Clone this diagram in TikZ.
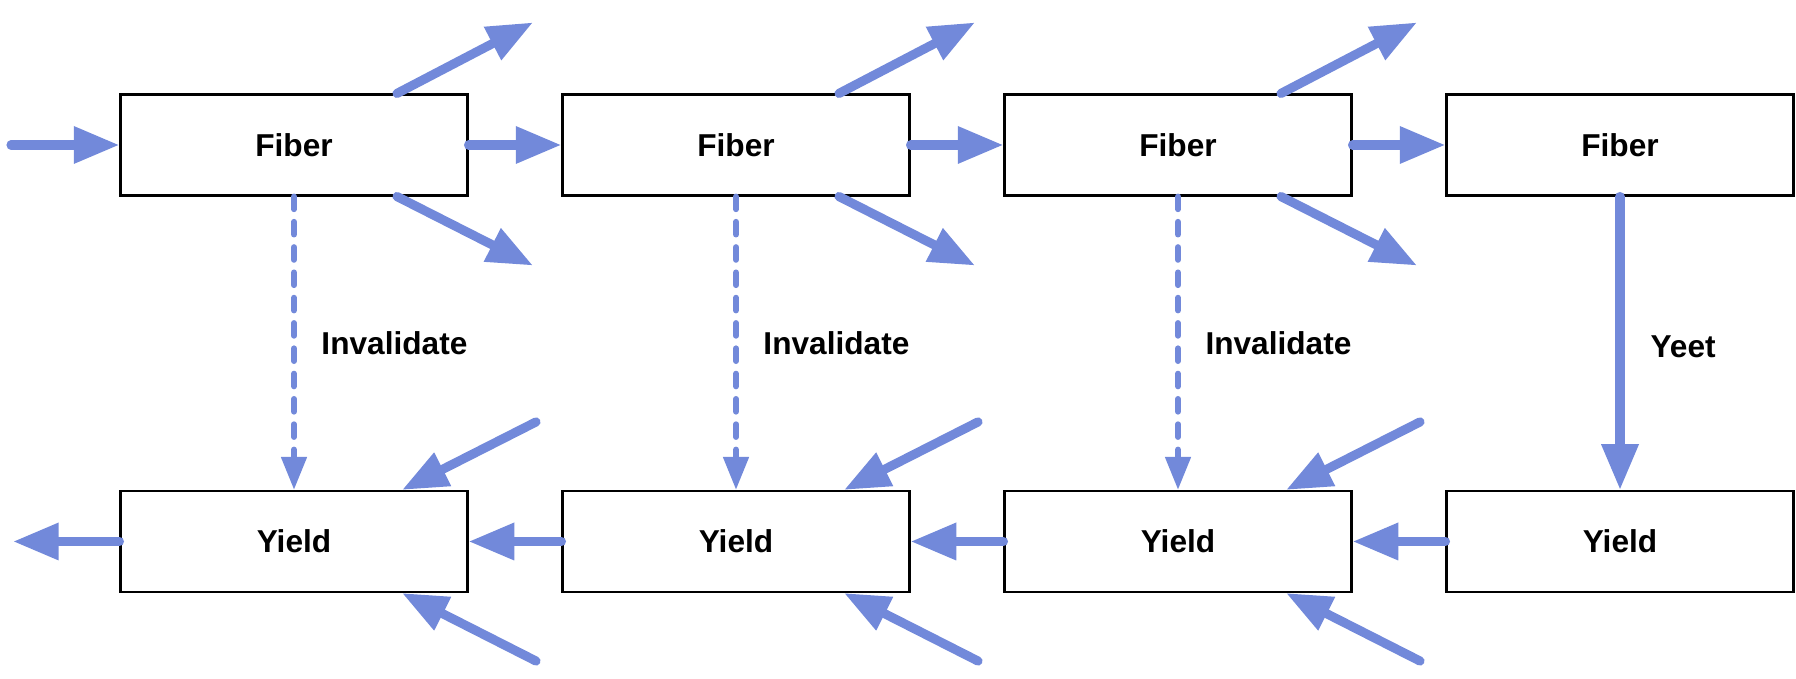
\documentclass[tikz,border=0pt]{standalone}
\usepackage{fontspec}
\setmainfont{Liberation Sans}
\usetikzlibrary{arrows.meta}
\definecolor{flowblue}{RGB}{114,137,218}

\begin{document}
\begin{tikzpicture}[
  box/.style={draw, line width=0.6pt, minimum width=3.47cm, minimum height=1.01cm,
    inner sep=0pt, font=\fontsize{9}{11}\selectfont\bfseries},
  flow/.style={flowblue, line width=2.6pt, line cap=round,
    -{Triangle[length=13pt,width=10pt]}},
  weak/.style={flowblue, line width=1.7pt, line cap=round,
    dash pattern=on 3.6pt off 3.6pt, -{Triangle[length=9.4pt,width=7pt]}},
  tag/.style={text=black, font=\fontsize{9}{11}\selectfont\bfseries, inner sep=0pt}
]
\useasboundingbox (0,0) rectangle (17.96,6.79);

% two rows of boxes
\foreach \i in {1,...,4} {
  \node[box] (f\i) at ({2.94+4.42*(\i-1)},5.34) {Fiber};
  \node[box] (y\i) at ({2.94+4.42*(\i-1)},1.375) {Yield};
}

\coordinate (in) at (0.11,5.34);
\coordinate (out) at (0.13,1.375);
\draw[flow] (in) -- (f1);
\draw[flow] (y1) -- (out);

\foreach \i/\j in {1/2,2/3,3/4} {
  \draw[flow] (f\i) -- (f\j);
  \draw[flow] (y\j) -- (y\i);
}

% fan out and fan in
\foreach \i in {1,2,3} {
  \coordinate (fu\i) at ([shift={(2.39,0.71)}]f\i.north);
  \coordinate (fd\i) at ([shift={(2.39,-0.69)}]f\i.south);
  \coordinate (yu\i) at ([shift={(2.42,0.68)}]y\i.north);
  \coordinate (yd\i) at ([shift={(2.42,-0.68)}]y\i.south);
  \draw[flow] ([xshift=1.03cm]f\i.north) -- (fu\i);
  \draw[flow] ([xshift=1.03cm]f\i.south) -- (fd\i);
  \draw[flow] (yu\i) -- ([xshift=1.08cm]y\i.north);
  \draw[flow] (yd\i) -- ([xshift=1.08cm]y\i.south);
  \draw[weak] (f\i) -- node[tag, right=0.245cm] {Invalidate} (y\i);
}

\draw[flow] (f4) -- node[tag, right=0.26cm, yshift=-0.04cm] {Yeet} (y4);
\end{tikzpicture}
\end{document}
